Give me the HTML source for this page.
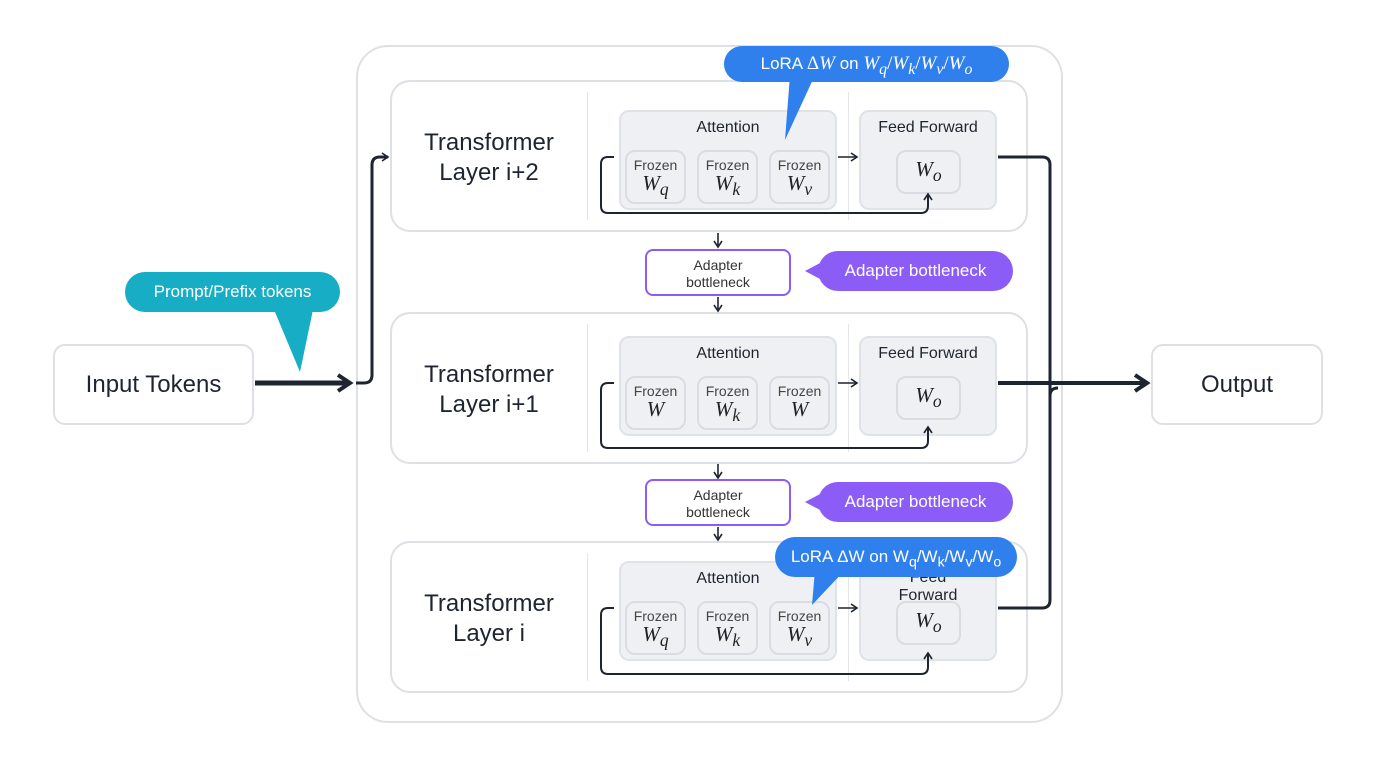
<!DOCTYPE html>
<html><head><meta charset="utf-8"><style>
body{margin:0;width:1376px;height:768px;background:#fff;position:relative;overflow:hidden;font-family:"Liberation Sans","DejaVu Sans",sans-serif;color:#1e2430}
.a{position:absolute;box-sizing:border-box}
sub{line-height:0}
.box{border:2px solid #dde0e5;background:#fff}
.g{background:#eff0f3;border:2px solid #dfe2e7;border-radius:10px}
.fz{background:#eef0f3;border:2px solid #d9dce2;border-radius:10px;text-align:center;font-size:14px;color:#444;padding-top:4px;line-height:18px}
.fz i{font-family:"Liberation Serif",serif;font-size:21px;color:#222}
.t{text-align:center}
.pill{border-radius:20px;color:#fff;text-align:center}
</style></head><body>
<div class="a box" style="left:356px;top:45px;width:707px;height:678px;border-radius:32px"></div>
<div class="a box" style="left:53px;top:344px;width:201px;height:81px;border-radius:12px;font-size:24px;line-height:77px;text-align:center">Input Tokens</div>
<div class="a box" style="left:1151px;top:344px;width:172px;height:81px;border-radius:12px;font-size:24px;line-height:77px;text-align:center">Output</div>

<div id="L"></div>
<script>
var ls=[[80,"Layer i+2",["W<sub>q</sub>","W<sub>k</sub>","W<sub>v</sub>"],"Feed Forward"],[312,"Layer i+1",["W","W<sub>k</sub>","W"],"Feed Forward"],[541,"Layer i",["W<sub>q</sub>","W<sub>k</sub>","W<sub>v</sub>"],"Feed<br>Forward"]];
var h="";
ls.forEach(function(l,i){var y=l[0];
h+='<div class="a box" style="left:390px;top:'+y+'px;width:638px;height:152px;border-radius:20px"></div>';
h+='<div class="a" style="left:587px;top:'+(y+12)+'px;width:1px;height:128px;background:#e3e5e9"></div>';
h+='<div class="a" style="left:848px;top:'+(y+12)+'px;width:1px;height:128px;background:#e3e5e9"></div>';
h+='<div class="a t" style="left:400px;top:'+(y+48)+'px;width:178px;font-size:24px;line-height:30px">Transformer<br>'+l[1]+'</div>';
var ay=y+(i==0?30:i==1?24:20);
h+='<div class="a g" style="left:619px;top:'+ay+'px;width:218px;height:100px"></div>';
h+='<div class="a t" style="left:619px;top:'+(ay+9)+'px;width:218px;font-size:16px">Attention</div>';
[625,697,769].forEach(function(x,j){h+='<div class="a fz" style="left:'+x+'px;top:'+(ay+40)+'px;width:61px;height:54px">Frozen<br><i>'+l[2][j]+'</i></div>';});
h+='<div class="a g" style="left:859px;top:'+ay+'px;width:138px;height:100px"></div>';
h+='<div class="a t" style="left:859px;top:'+(ay+(i==2?8:9))+'px;width:138px;font-size:16px;line-height:18px">'+l[3]+'</div>';
h+='<div class="a fz" style="left:896px;top:'+(ay+40)+'px;width:65px;height:44px;padding-top:8px"><i>W<sub>o</sub></i></div>';
});
document.getElementById("L").innerHTML=h;
</script>

<div class="a t" style="left:645px;top:249px;width:146px;height:47px;border:2.5px solid #8b5cf6;border-radius:8px;background:#fff;font-size:14px;line-height:17px;padding-top:6px;color:#333">Adapter<br>bottleneck</div>
<div class="a t" style="left:645px;top:479px;width:146px;height:47px;border:2.5px solid #8b5cf6;border-radius:8px;background:#fff;font-size:14px;line-height:17px;padding-top:6px;color:#333">Adapter<br>bottleneck</div>

<svg class="a" style="left:0;top:0" width="1376" height="768">
<defs><marker id="m" markerWidth="10" markerHeight="10" refX="8" refY="5" orient="auto" markerUnits="userSpaceOnUse"><path d="M2,1 L8,5 L2,9" fill="none" stroke="#1e2430" stroke-width="1.6"/></marker>
<marker id="M" markerWidth="20" markerHeight="20" refX="16" refY="10" orient="auto" markerUnits="userSpaceOnUse"><path d="M4,2 L16,10 L4,18" fill="none" stroke="#1e2430" stroke-width="4"/></marker></defs>
<g fill="none" stroke="#1e2430">
<path d="M255,383 H350" stroke-width="5" marker-end="url(#M)"/>
<path d="M356,383 H364 Q372,383 372,375 V165 Q372,157 380,157 H388" stroke-width="3" marker-end="url(#m)"/>
<path d="M998,157 H1042 Q1050,157 1050,165 V600 Q1050,608 1042,608 H998" stroke-width="3"/>
<path d="M998,383 H1147" stroke-width="4" marker-end="url(#M)"/>
<path d="M1050,383 V396 Q1050,388 1058,388" stroke-width="3"/>
<g stroke-width="1.6">
<path d="M718,233 V247" marker-end="url(#m)"/><path d="M718,297 V311" marker-end="url(#m)"/>
<path d="M718,464 V478" marker-end="url(#m)"/><path d="M718,527 V540" marker-end="url(#m)"/>
<path d="M838,157 H857" marker-end="url(#m)"/><path d="M838,383 H857" marker-end="url(#m)"/><path d="M838,608 H857" marker-end="url(#m)"/>
</g>
<g stroke-width="2">
<path d="M614,157 H608 Q601,157 601,164 V206 Q601,213 608,213 H921 Q928,213 928,206 V194" marker-end="url(#m)"/>
<path d="M614,383 H608 Q601,383 601,390 V441 Q601,448 608,448 H921 Q928,448 928,441 V427" marker-end="url(#m)"/>
<path d="M614,608 H608 Q601,608 601,615 V667 Q601,674 608,674 H921 Q928,674 928,667 V653" marker-end="url(#m)"/>
</g>
</g>
<path d="M270,300 L300,372 L315,300 Z" fill="#16adc5"/>
<path d="M790,75 L785,140 L815,75 Z" fill="#2f80ec"/>
<path d="M815,570 L812,605 L845,570 Z" fill="#2f80ec"/>
<path d="M822,262 L805,271 L822,280 Z" fill="#8b5cf6"/>
<path d="M822,493 L805,502 L822,511 Z" fill="#8b5cf6"/>
</svg>
<div class="a pill" style="left:125px;top:272px;width:215px;height:40px;background:#16adc5;font-size:17px;line-height:40px">Prompt/Prefix tokens</div>
<div class="a pill" style="left:724px;top:46px;width:285px;height:36px;background:#2f80ec;font-size:17px;line-height:36px">LoRA <span style="font-family:'Liberation Serif',serif;font-size:19px">Δ<i>W</i></span> on <span style="font-family:'Liberation Serif',serif;font-size:19px"><i>W<sub>q</sub></i>/<i>W<sub>k</sub></i>/<i>W<sub>v</sub></i>/<i>W<sub>o</sub></i></span></div>
<div class="a pill" style="left:775px;top:537px;width:242px;height:40px;background:#2f80ec;font-size:17px;line-height:40px">LoRA ΔW on W<sub>q</sub>/W<sub>k</sub>/W<sub>v</sub>/W<sub>o</sub></div>
<div class="a pill" style="left:818px;top:251px;width:195px;height:40px;background:#8b5cf6;font-size:17px;line-height:40px">Adapter bottleneck</div>
<div class="a pill" style="left:818px;top:482px;width:195px;height:40px;background:#8b5cf6;font-size:17px;line-height:40px">Adapter bottleneck</div>
</body></html>
